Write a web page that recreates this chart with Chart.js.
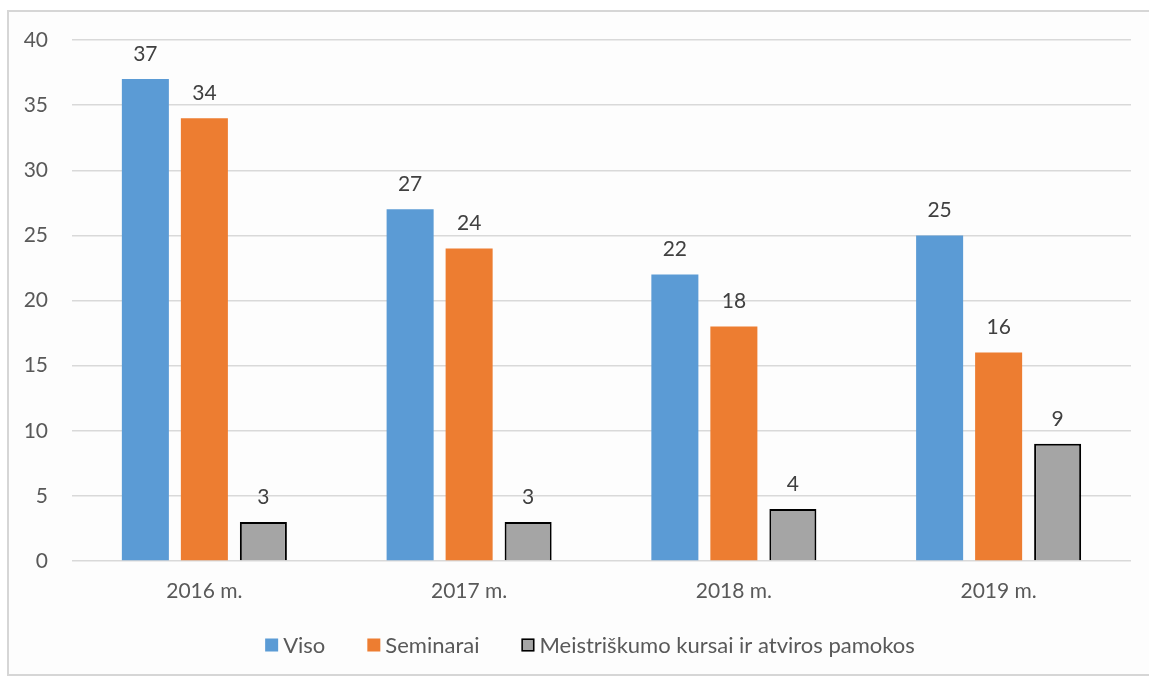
<!DOCTYPE html>
<html>
<head>
<meta charset="utf-8">
<script src="https://cdn.jsdelivr.net/npm/chart.js@4/dist/chart.umd.min.js"></script>
<style>
html,body{margin:0;padding:0;background:#ffffff;}
#wrap{position:absolute;left:0;top:0;width:1149px;height:677px;}
</style>
</head>
<body>
<div id="wrap"><canvas id="c" width="1149" height="677"></canvas></div>
<script>
const categories = ['2016 m.', '2017 m.', '2018 m.', '2019 m.'];
const seriesNames = ['Viso', 'Seminarai', 'Meistriškumo kursai ir atviros pamokos'];
const viso = [37, 27, 22, 25];
const seminarai = [34, 24, 18, 16];
const meistriskumo = [3, 3, 4, 9];
const yTicks = [0, 5, 10, 15, 20, 25, 30, 35, 40];

const FONT = 'Lato, "Open Sans", sans-serif';

const frame = {
  id: 'frame',
  beforeDraw(chart) {
    const ctx = chart.ctx;
    ctx.save();
    ctx.fillStyle = '#ffffff';
    ctx.fillRect(0, 0, chart.width, chart.height);
    ctx.fillStyle = '#fdfdfd';
    ctx.fillRect(8, 11, chart.width - 8, 664);
    ctx.strokeStyle = '#d6d6d6';
    ctx.lineWidth = 2;
    ctx.beginPath();
    ctx.moveTo(chart.width, 11);
    ctx.lineTo(8, 11);
    ctx.lineTo(8, 675);
    ctx.lineTo(chart.width, 675);
    ctx.stroke();
    ctx.restore();
  }
};

const dataLabels = {
  id: 'dataLabels',
  afterDatasetsDraw(chart) {
    const ctx = chart.ctx;
    ctx.save();
    ctx.font = '21px ' + FONT;
    ctx.fillStyle = '#404040';
    ctx.textAlign = 'center';
    ctx.textBaseline = 'middle';
    chart.data.datasets.forEach((ds, i) => {
      const meta = chart.getDatasetMeta(i);
      meta.data.forEach((el, j) => {
        ctx.fillText(String(ds.data[j]), el.x, el.y - 25);
      });
    });
    ctx.restore();
  }
};

const legendPlugin = {
  id: 'customLegend',
  afterDraw(chart) {
    const ctx = chart.ctx;
    ctx.save();
    ctx.font = '22px ' + FONT;
    ctx.textBaseline = 'middle';
    ctx.textAlign = 'left';
    const box = 13, gapText = 5, gapItem = 42;
    const items = chart.data.datasets.map(ds => ({ds, w: box + gapText + ctx.measureText(ds.label).width}));
    const total = items.reduce((s, it) => s + it.w, 0) + gapItem * (items.length - 1);
    let x = 590 - total / 2;
    const cy = 645;
    items.forEach(it => {
      ctx.fillStyle = it.ds.backgroundColor;
      ctx.fillRect(x, cy - box / 2, box, box);
      if (it.ds.borderWidth) {
        ctx.strokeStyle = it.ds.borderColor;
        ctx.lineWidth = 1.5;
        ctx.strokeRect(x + 0.75, cy - box / 2 + 0.75, box - 1.5, box - 1.5);
      }
      ctx.fillStyle = '#595959';
      ctx.fillText(it.ds.label, x + box + gapText, cy + 1);
      x += it.w + gapItem;
    });
    ctx.restore();
  }
};

new Chart(document.getElementById('c'), {
  type: 'bar',
  data: {
    labels: categories,
    datasets: [
      {label: seriesNames[0], data: viso, backgroundColor: '#5B9BD5', borderWidth: 0},
      {label: seriesNames[1], data: seminarai, backgroundColor: '#ED7D31', borderWidth: 0},
      {label: seriesNames[2], data: meistriskumo, backgroundColor: '#A5A5A5', borderColor: '#000000', borderWidth: 2}
    ]
  },
  options: {
    responsive: false,
    animation: false,
    devicePixelRatio: 1,
    categoryPercentage: 0.6686,
    barPercentage: 0.797,
    layout: {padding: {top: 40, left: 10, right: 18, bottom: 0}},
    plugins: {legend: {display: false}, tooltip: {enabled: false}},
    scales: {
      x: {
        grid: {display: false, drawTicks: false},
        border: {display: false},
        ticks: {font: {family: FONT, size: 21}, color: '#595959', padding: 18},
        afterFit(scale) { scale.height = 116; }
      },
      y: {
        min: 0, max: 40,
        afterBuildTicks(scale) { scale.ticks = yTicks.map(v => ({value: v})); },
        grid: {color: '#d9d9d9', lineWidth: 1.5, drawTicks: false},
        border: {display: false},
        ticks: {font: {family: FONT, size: 21}, color: '#595959', padding: 24},
        afterFit(scale) { scale.width = 62; }
      }
    }
  },
  plugins: [frame, dataLabels, legendPlugin]
});
</script>
</body>
</html>
